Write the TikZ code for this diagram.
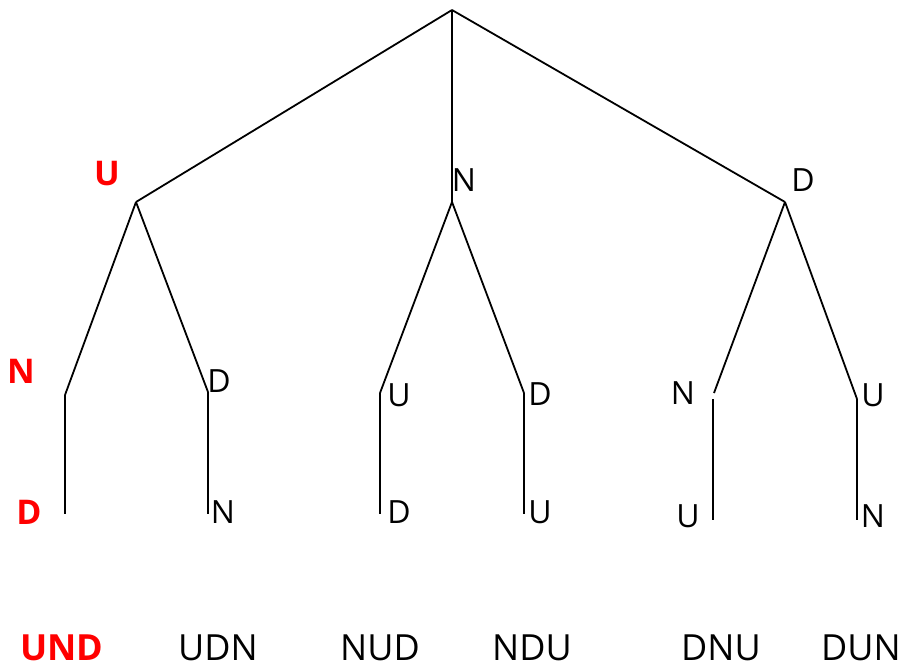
\documentclass[tikz,border=0pt]{standalone}
\usepackage{fontspec}
\setmainfont{Open Sans}
\begin{document}
\begin{tikzpicture}[x=1pt,y=-1pt,
  edge/.style={line width=1.8pt, black},
  lbl/.style={inner sep=0pt, font=\fontsize{32}{38}\selectfont},
  redlbl/.style={inner sep=0pt, text=red, font=\fontsize{34}{40}\selectfont\bfseries},
  res/.style={inner sep=0pt, font=\fontsize{36}{42}\selectfont},
  redres/.style={inner sep=0pt, text=red, font=\fontsize{36}{42}\selectfont\bfseries}]
\useasboundingbox (0,0) rectangle (901,666);
% tree points
\coordinate (r) at (452,10);
\coordinate (u) at (136,202);
\coordinate (n) at (452,202);
\coordinate (d) at (785,202);
\coordinate (un) at (65,395);
\coordinate (unb) at (65,514);
\coordinate (ud) at (208,392);
\coordinate (udb) at (208,514);
\coordinate (nu) at (380,393);
\coordinate (nub) at (380,514);
\coordinate (nd) at (524,393);
\coordinate (ndb) at (524,514);
\coordinate (dn) at (714,393);
\coordinate (dnt) at (713,399);
\coordinate (dnb) at (713,520);
\coordinate (du) at (857,399);
\coordinate (dub) at (857,520);
% edges
\draw[edge] (r) -- (u);
\draw[edge] (r) -- (n);
\draw[edge] (r) -- (d);
\draw[edge] (u) -- (un);
\draw[edge] (u) -- (ud);
\draw[edge] (n) -- (nu);
\draw[edge] (n) -- (nd);
\draw[edge] (d) -- (dn);
\draw[edge] (d) -- (du);
\draw[edge] (un) -- (unb);
\draw[edge] (ud) -- (udb);
\draw[edge] (nu) -- (nub);
\draw[edge] (nd) -- (ndb);
\draw[edge] (dnt) -- (dnb);
\draw[edge] (du) -- (dub);
% labels
\node[redlbl] (lU) at (107,174) {U};
\node[redlbl] (lUN) at (21,371) {N};
\node[redlbl] (lUND) at (29,512) {D};
\node[lbl] (lN) at (464,180) {N};
\node[lbl] (lD) at (803,180) {D};
\node[lbl] (lUD) at (219,381) {D};
\node[lbl] (lUDN) at (223,512) {N};
\node[lbl] (lNU) at (399,395) {U};
\node[lbl] (lNUD) at (399,512) {D};
\node[lbl] (lND) at (540,394) {D};
\node[lbl] (lNDU) at (540,512) {U};
\node[lbl] (lDN) at (683,393) {N};
\node[lbl] (lDNU) at (688,516) {U};
\node[lbl] (lDU) at (873,395) {U};
\node[lbl] (lDUN) at (873,516) {N};
% results
\node[redres] (p1) at (62,648) {UND};
\node[res] (p2) at (218,648) {UDN};
\node[res] (p3) at (380,648) {NUD};
\node[res] (p4) at (532,648) {NDU};
\node[res] (p5) at (721,648) {DNU};
\node[res] (p6) at (861,648) {DUN};
\end{tikzpicture}
\end{document}
